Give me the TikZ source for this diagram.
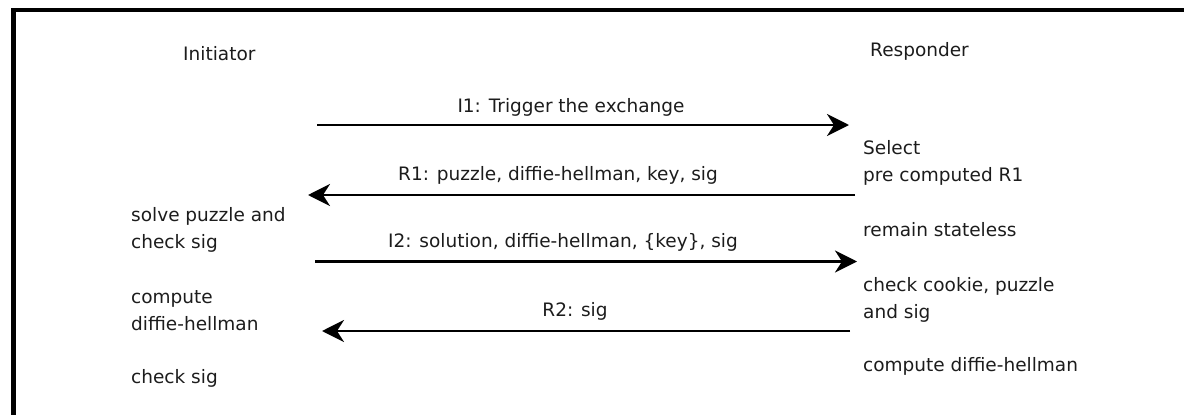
\documentclass[tikz,border=0pt]{standalone}
\usepackage{fontspec}
\setmainfont{DejaVu Sans}
\usetikzlibrary{arrows.meta}
\definecolor{ink}{HTML}{1C1C1C}
\begin{document}
\begin{tikzpicture}[x=1pt,y=-1pt,
  note/.style={anchor=base west, inner sep=0pt, text=ink,
    font=\fontsize{18.5}{22}\selectfont},
  msglabel/.style={anchor=base, inner sep=0pt, text=ink,
    font=\fontsize{18.5}{22}\selectfont},
  msg/.style={line width=2.7pt,
    -{Stealth[length=22pt,width=22pt,inset=7pt]}},
  rule/.style={line cap=butt}]
\useasboundingbox (0,0) rectangle (1184,415);

% frame edges (top and left)
\draw[rule, line width=3.4pt] (11,10) -- (1190,10);
\draw[rule, line width=5pt] (13.5,8.3) -- (13.5,420);

% parties
\node[note] (initiator) at (183,60) {Initiator};
\node[note] (responder) at (870,56) {Responder};

% message end points
\coordinate (i1s) at (317,125);   \coordinate (i1e) at (849,125);
\coordinate (r1s) at (855,195);   \coordinate (r1e) at (308,195);
\coordinate (i2s) at (315,261.5); \coordinate (i2e) at (857,261.5);
\coordinate (r2s) at (850,331);   \coordinate (r2e) at (322,331);

% messages
\draw[msg] (i1s) -- (i1e);
\draw[msg] (r1s) -- (r1e);
\draw[msg] (i2s) -- (i2e);
\draw[msg] (r2s) -- (r2e);

\node[msglabel] (l1) at (571,112.7) {I1: Trigger the exchange};
\node[msglabel] (l2) at (558,180) {R1: puzzle, diffie-hellman, key, sig};
\node[msglabel] (l3) at (563,247) {I2: solution, diffie-hellman, \{key\}, sig};
\node[msglabel] (l4) at (575,316.7) {R2: sig};

% initiator actions
\node[note] (ia1) at (131,221.7) {solve puzzle and};
\node[note] (ia2) at (131,248.3) {check sig};
\node[note] (ib1) at (131,303.3) {compute};
\node[note] (ib2) at (131,330.7) {diffie-hellman};
\node[note] (ic1) at (131,383.3) {check sig};

% responder actions
\node[note] (ra1) at (863,154.5) {Select};
\node[note] (ra2) at (863,181.5) {pre computed R1};
\node[note] (rb1) at (863,236.7) {remain stateless};
\node[note] (rc1) at (863,291) {check cookie, puzzle};
\node[note] (rc2) at (863,318.3) {and sig};
\node[note] (rd1) at (863,371) {compute diffie-hellman};
\end{tikzpicture}
\end{document}
